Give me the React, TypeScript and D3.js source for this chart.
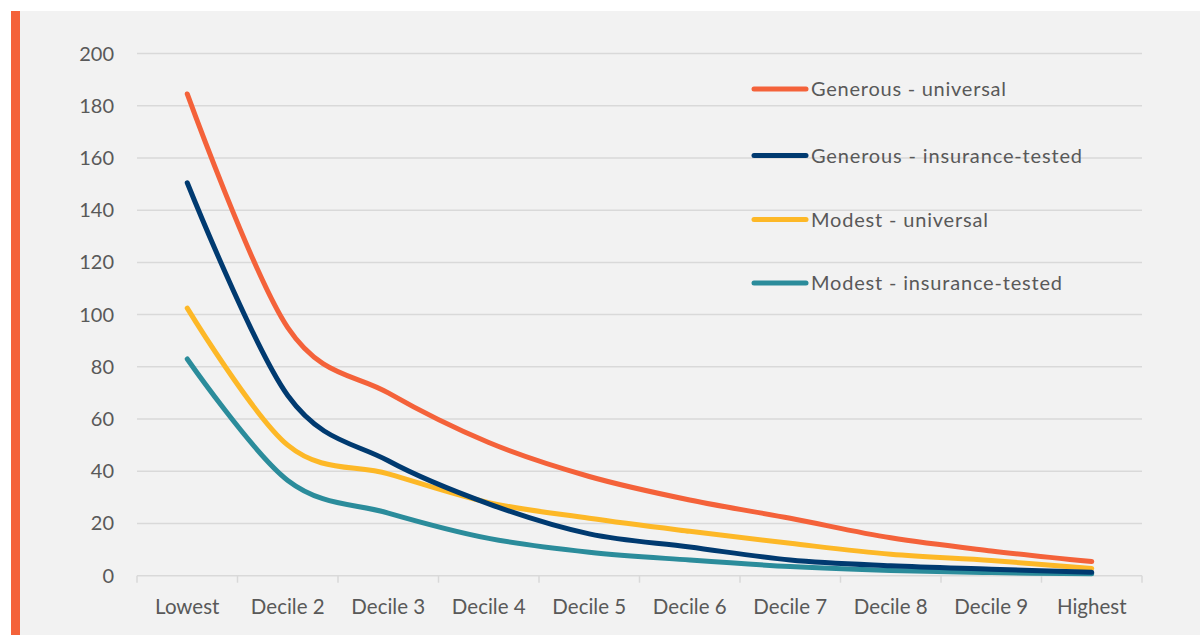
import * as React from 'react';
import {useEffect, useRef} from 'react';
import * as d3 from 'd3';

const categories = ['Lowest', 'Decile 2', 'Decile 3', 'Decile 4', 'Decile 5', 'Decile 6', 'Decile 7', 'Decile 8', 'Decile 9', 'Highest'];

const generousUniversal = [184.5, 95, 70, 51, 38, 29, 22, 14.5, 9.5, 5.4];
const generousInsurance = [150.5, 69, 44, 27.5, 16, 11, 6, 3.8, 2.5, 1.3];
const modestUniversal = [102.5, 50, 39, 28, 22, 17, 12.4, 8.2, 5.8, 2.8];
const modestInsurance = [83, 36.5, 24, 14.3, 9, 6, 3.5, 2, 1.2, 0.7];

const seriesNames = ['Generous - universal', 'Generous - insurance-tested', 'Modest - universal', 'Modest - insurance-tested'];
const seriesColors = ['#f4623a', '#003a70', '#fdb827', '#2b8c9b'];
const legendWidths = [195, 271, 177, 251];

const yTicks = [0, 20, 40, 60, 80, 100, 120, 140, 160, 180, 200];

const W = 1200;
const H = 635;

export default function App() {
  const ref = useRef<SVGSVGElement>(null);

  useEffect(() => {
    const svg = d3.select(ref.current);
    svg.selectAll('*').remove();

    const font = 'Lato, "Open Sans", sans-serif';
    const textColor = '#595959';
    const gridColor = '#d9d9d9';

    // panel + side accent
    svg.append('rect').attr('x', 11).attr('y', 11).attr('width', W - 11).attr('height', H - 11).attr('fill', '#f2f2f2');
    svg.append('rect').attr('x', 11).attr('y', 11).attr('width', 9).attr('height', H - 11).attr('fill', '#f4623a');

    const x = d3.scaleBand<string>().domain(categories).range([137, 1142]);
    const y = d3.scaleLinear().domain([0, 200]).range([575.7, 53.5]);

    // gridlines
    svg.append('g')
      .selectAll('line')
      .data(yTicks.slice(1))
      .join('line')
      .attr('x1', 137).attr('x2', 1142)
      .attr('y1', d => y(d)).attr('y2', d => y(d))
      .attr('stroke', gridColor).attr('stroke-width', 1.5);

    // y labels
    svg.append('g')
      .selectAll('text')
      .data(yTicks)
      .join('text')
      .attr('x', 114)
      .attr('y', d => y(d) + 7)
      .attr('text-anchor', 'end')
      .attr('font-family', font)
      .attr('font-size', 20)
      .attr('fill', textColor)
      .text(d => d);

    // x axis
    svg.append('line')
      .attr('x1', 137).attr('x2', 1142)
      .attr('y1', y(0)).attr('y2', y(0))
      .attr('stroke', gridColor).attr('stroke-width', 1.5);

    const bounds = categories.map(c => x(c) as number).concat([1142]);
    svg.append('g')
      .selectAll('line')
      .data(bounds)
      .join('line')
      .attr('x1', d => d).attr('x2', d => d)
      .attr('y1', y(0)).attr('y2', y(0) + 7)
      .attr('stroke', gridColor).attr('stroke-width', 1.5);

    svg.append('g')
      .selectAll('text')
      .data(categories)
      .join('text')
      .attr('x', d => (x(d) as number) + x.bandwidth() / 2)
      .attr('y', 614)
      .attr('text-anchor', 'middle')
      .attr('font-family', font)
      .attr('font-size', 20.5)
      .attr('fill', textColor)
      .text(d => d);

    // lines
    const allSeries = [generousUniversal, generousInsurance, modestUniversal, modestInsurance];
    const line = d3.line<number>()
      .x((_, i) => (x(categories[i]) as number) + x.bandwidth() / 2)
      .y(d => y(d))
      .curve(d3.curveCatmullRom.alpha(0));

    // draw in reverse so the red line sits on top
    const order = [3, 2, 1, 0];
    svg.append('g')
      .selectAll('path')
      .data(order)
      .join('path')
      .attr('d', i => line(allSeries[i]))
      .attr('fill', 'none')
      .attr('stroke', i => seriesColors[i])
      .attr('stroke-width', 5)
      .attr('stroke-linecap', 'round')
      .attr('stroke-linejoin', 'round');

    // legend
    const legendY = [89, 155.5, 219.5, 283];
    const lg = svg.append('g');
    seriesNames.forEach((name, i) => {
      lg.append('line')
        .attr('x1', 754).attr('x2', 806)
        .attr('y1', legendY[i]).attr('y2', legendY[i])
        .attr('stroke', seriesColors[i])
        .attr('stroke-width', 5)
        .attr('stroke-linecap', 'round');
      lg.append('text')
        .attr('x', 811)
        .attr('y', legendY[i] + 7)
        .attr('font-family', font)
        .attr('font-size', 20)
        .attr('fill', textColor)
        .attr('textLength', legendWidths[i])
        .attr('lengthAdjust', 'spacing')
        .text(name);
    });
  }, []);

  return (
    <svg
      ref={ref}
      width={W}
      height={H}
      style={{position: 'absolute', left: 0, top: 0, display: 'block', background: '#fff'}}
    />
  );
}
